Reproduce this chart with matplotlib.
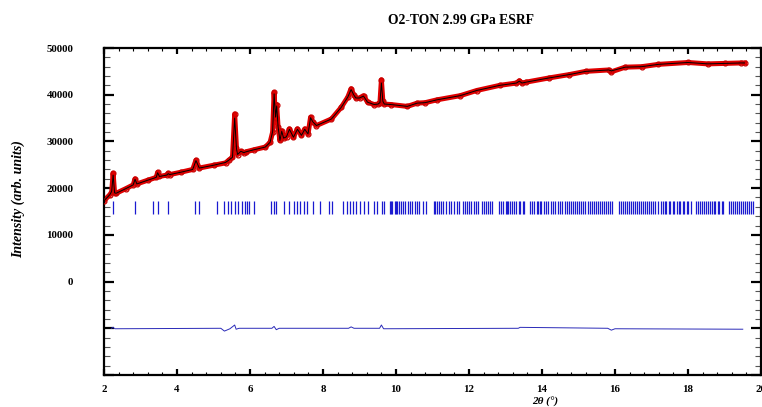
import matplotlib.pyplot as plt
from matplotlib.ticker import MultipleLocator

plt.rcParams['font.family'] = ['Liberation Serif', 'DejaVu Serif']

two_theta = [2.00, 2.16, 2.21, 2.25, 2.29, 2.33, 2.60, 2.80, 2.85, 2.90,
             3.20, 3.43, 3.47, 3.52, 3.72, 3.76, 3.80, 4.10, 4.43, 4.52,
             4.61, 5.00, 5.33, 5.42, 5.52, 5.58, 5.63, 5.66, 5.75, 5.83,
             5.90, 6.10, 6.42, 6.55, 6.62, 6.66, 6.70, 6.73, 6.77, 6.82,
             6.87, 6.92, 7.00, 7.08, 7.19, 7.30, 7.41, 7.50, 7.59, 7.66,
             7.72, 7.82, 8.23, 8.50, 8.68, 8.77, 8.84, 8.90, 9.00, 9.11,
             9.22, 9.40, 9.51, 9.56, 9.60, 9.64, 9.68, 9.86, 10.31, 10.58,
             10.80, 11.12, 11.76, 12.21, 12.84, 13.30, 13.38, 13.45, 13.57, 14.20,
             14.74, 15.20, 15.83, 15.90, 16.28, 16.73, 17.19, 18.00, 18.54, 19.00,
             19.45, 19.55]
y_obs = [17300, 18600, 19200, 23200, 19000, 18900, 19900, 20700, 22000, 20900,
         21700, 22300, 23400, 22500, 22800, 23200, 22900, 23400, 24000, 26000,
         24300, 24900, 25400, 26000, 26600, 35900, 28500, 27200, 27900, 27600,
         27800, 28200, 28800, 29800, 32000, 40500, 35000, 37900, 33000, 30200,
         32300, 30700, 31000, 32700, 30900, 32700, 31300, 32700, 31600, 35200,
         34200, 33400, 34800, 37300, 39500, 41300, 40000, 39300, 39300, 39800,
         38400, 37900, 38000, 38300, 43200, 38600, 38000, 37900, 37500, 38200,
         38300, 38900, 39800, 40900, 42000, 42500, 43000, 42500, 42700, 43600,
         44300, 45000, 45300, 44900, 45900, 46000, 46500, 46900, 46600, 46700,
         46800, 46800]
# calculated profile (almost on top of the observed one)
y_calc = [17300, 18600, 19300, 22800, 19000, 18900, 19900, 20700, 21900, 20900,
          21700, 22300, 23300, 22500, 22800, 23100, 22900, 23400, 24000, 25900,
          24300, 24900, 25500, 26000, 26600, 35000, 28400, 27200, 27900, 27600,
          27800, 28200, 28800, 29800, 32100, 40200, 35200, 37600, 33100, 30200,
          32200, 30700, 31000, 32600, 30900, 32600, 31300, 32600, 31600, 35100,
          34200, 33400, 34800, 37300, 39500, 41100, 40000, 39300, 39300, 39700,
          38400, 37900, 38000, 38300, 42500, 38600, 38000, 37900, 37500, 38200,
          38300, 38900, 39800, 40900, 42000, 42500, 42900, 42500, 42700, 43600,
          44300, 45000, 45300, 45100, 45900, 46000, 46500, 46900, 46600, 46700,
          46800, 46800]

# obs - calc, drawn with an offset of -10000
diff_x = [2.20, 2.25, 2.30, 5.20, 5.30, 5.45, 5.58, 5.62, 5.70, 6.60,
          6.66, 6.72, 6.80, 8.70, 8.77, 8.85, 9.55, 9.60, 9.66, 13.35,
          13.40, 15.80, 15.90, 16.00, 19.50]
diff_y = [-10000, -9800, -10100, -10000, -10600, -10100, -9300, -10200, -10000, -10000,
          -9600, -10300, -10000, -10000, -9700, -10000, -10000, -9300, -10100, -10000,
          -9800, -10000, -10400, -10100, -10200]

# Bragg reflection positions
bragg = [2.25, 2.86, 3.34, 3.47, 3.76, 4.49, 4.61, 5.10, 5.29, 5.39,
         5.49, 5.58, 5.67, 5.77, 5.85, 5.92, 5.98, 6.11, 6.58, 6.65,
         6.71, 6.94, 7.07, 7.20, 7.29, 7.37, 7.48, 7.57, 7.72, 7.93,
         8.16, 8.25, 8.56, 8.66, 8.75, 8.82, 8.90, 9.00, 9.11, 9.22,
         9.41, 9.49, 9.61, 9.66, 9.83, 9.85, 9.90, 9.96, 9.99, 10.03,
         10.08, 10.15, 10.19, 10.25, 10.32, 10.38, 10.44, 10.52, 10.58, 10.64,
         10.73, 10.81, 11.03, 11.08, 11.13, 11.19, 11.24, 11.29, 11.37, 11.44,
         11.51, 11.58, 11.66, 11.73, 11.83, 11.89, 11.95, 12.00, 12.05, 12.13,
         12.18, 12.26, 12.36, 12.42, 12.47, 12.53, 12.58, 12.64, 12.81, 12.87,
         12.94, 13.00, 13.03, 13.07, 13.12, 13.18, 13.23, 13.30, 13.36, 13.41,
         13.49, 13.52, 13.66, 13.72, 13.78, 13.85, 13.88, 13.94, 13.97, 14.05,
         14.12, 14.17, 14.25, 14.30, 14.35, 14.43, 14.48, 14.54, 14.63, 14.68,
         14.73, 14.79, 14.84, 14.90, 14.95, 15.01, 15.06, 15.13, 15.19, 15.26,
         15.31, 15.37, 15.42, 15.48, 15.53, 15.58, 15.64, 15.69, 15.75, 15.80,
         15.87, 15.93, 16.10, 16.17, 16.22, 16.27, 16.33, 16.38, 16.44, 16.49,
         16.55, 16.60, 16.65, 16.71, 16.76, 16.82, 16.87, 16.93, 16.98, 17.05,
         17.10, 17.18, 17.26, 17.31, 17.36, 17.41, 17.47, 17.52, 17.58, 17.63,
         17.69, 17.74, 17.79, 17.85, 17.90, 17.96, 18.01, 18.07, 18.21, 18.27,
         18.32, 18.37, 18.43, 18.48, 18.54, 18.59, 18.65, 18.70, 18.75, 18.81,
         18.86, 18.92, 18.97, 19.13, 19.19, 19.24, 19.30, 19.35, 19.40, 19.46,
         19.51, 19.57, 19.62, 19.67, 19.73, 19.78]

y_ticks = [-20000, -10000, 0, 10000, 20000, 30000, 40000, 50000]
y_ticklabels = ['', '', '0', '10000', '20000', '30000', '40000', '50000']
x_ticks = [2, 4, 6, 8, 10, 12, 14, 16, 18, 20]

fig = plt.figure(figsize=(7.62, 4.07), dpi=100)
ax = fig.add_axes([104 / 762, 32 / 407, 657 / 762, 327 / 407])

# observed: thick red band of open circles, calc: thin black line
ax.plot(two_theta, y_obs, color='#e00000', lw=3.6, zorder=2)
ax.plot(two_theta, y_obs, 'o', mfc='none', mec='#c80000', ms=3.5, mew=0.9, zorder=3)
ax.plot(two_theta, y_calc, color='black', lw=0.7, zorder=4)

ax.vlines(bragg, 14500, 17200, color='#1a1ad0', lw=0.9, zorder=2)
ax.plot(diff_x, diff_y, color='#2a2ab8', lw=0.7, zorder=2)

ax.set_xlim(2, 19.85)
ax.set_ylim(-20000, 50000)
ax.set_xticks(x_ticks)
ax.set_yticks(y_ticks)
ax.set_yticklabels(y_ticklabels)
ax.xaxis.set_minor_locator(MultipleLocator(0.4))
ax.yaxis.set_minor_locator(MultipleLocator(2000))

for s in ax.spines.values():
    s.set_linewidth(1.6)
ax.tick_params(axis='x', which='major', direction='in', top=True, length=4, width=1.6,
               pad=7, labelsize=7.8)
ax.tick_params(axis='x', which='minor', direction='in', top=True, length=2.5, width=0.8)
ax.tick_params(axis='y', which='major', direction='in', right=True, length=7, width=1.6,
               pad=22, labelsize=7.8)
ax.tick_params(axis='y', which='minor', direction='in', right=True, length=4.5, width=0.8,
               color='#555555')
for lab in ax.get_xticklabels() + ax.get_yticklabels():
    lab.set_fontweight('bold')

fig.text(461 / 762, 1 - 20 / 407, 'O2-TON 2.99 GPa ESRF', ha='center', va='center',
         fontsize=9.8, fontweight='bold')
fig.text(18 / 762, 1 - 199 / 407, 'Intensity (arb. units)', rotation=90, ha='center',
         va='center', fontsize=10, fontweight='bold', style='italic')
fig.text(545 / 762, 0.0, '2θ (°)', ha='center', va='bottom', fontsize=8,
         fontweight='bold', style='italic')

fig.savefig('out.png', dpi=100)
